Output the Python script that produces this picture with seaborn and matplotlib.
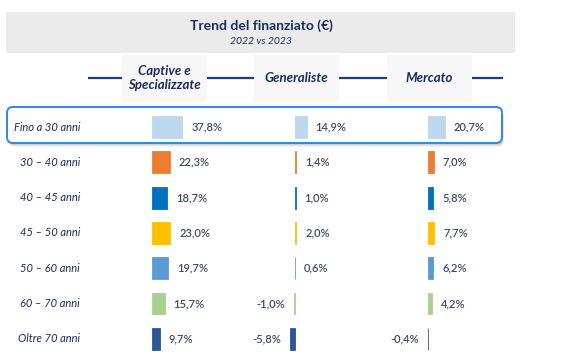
import pandas as pd
import seaborn as sns
import matplotlib.pyplot as plt
from matplotlib.patches import FancyBboxPatch, Rectangle
from matplotlib import transforms

age_groups = ["Fino a 30 anni", "30 – 40 anni", "40 – 45 anni", "45 – 50 anni",
              "50 – 60 anni", "60 – 70 anni", "Oltre 70 anni"]
captive = [37.8, 22.3, 18.7, 23.0, 19.7, 15.7, 9.7]
generaliste = [14.9, 1.4, 1.0, 2.0, 0.6, -1.0, -5.8]
mercato = [20.7, 7.0, 5.8, 7.7, 6.2, 4.2, -0.4]
column_names = ["Captive e\nSpecializzate", "Generaliste", "Mercato"]
bar_colors = ["#BDD7EE", "#ED7D31", "#0070C0", "#FFC000", "#5B9BD5", "#A9D18E", "#2F5597"]

navy = "#1B2B5E"
label_gray = "#3E4B63"

sns.set_theme(style="white")
plt.rcParams['font.family'] = ['Lato', 'DejaVu Sans']

W, H = 566, 360
fig = plt.figure(figsize=(W / 100, H / 100), dpi=100)

# background layer in pixel coords for the frame decorations
bg = fig.add_axes([0, 0, 1, 1])
bg.set_xlim(0, W)
bg.set_ylim(H, 0)
bg.axis("off")

bg.add_patch(Rectangle((6, 12), 509, 41, color="#EBEBEB", lw=0))
bg.text(261, 26, "Trend del finanziato (€)", ha="center", va="center",
        fontsize=10, fontweight="bold", color=navy)
bg.text(261, 42, "2022 vs 2023", ha="center", va="center",
        fontsize=7.5, style="italic", color=navy)

header_boxes = [(122, 207), (254, 339), (387, 472)]
for (x1, x2), name in zip(header_boxes, column_names):
    bg.add_patch(Rectangle((x1, 55), x2 - x1, 47, color="#F7F7F7", lw=0))
    bg.text((x1 + x2) / 2, 78, name, ha="center", va="center", fontsize=9.5,
            fontweight="bold", style="italic", color=navy, linespacing=1.25)
line_segs = [(88, 122), (207, 254), (339, 387), (472, 503)]
for x1, x2 in line_segs:
    bg.plot([x1, x2], [78, 78], color="#1F3F7A", lw=1.6, solid_capstyle="butt")

# highlight box with soft shadow
for k, a in enumerate([0.05, 0.06, 0.08]):
    off = 4 - k
    bg.add_patch(FancyBboxPatch((7 + off * 0.5, 107 + off), 495, 36,
                                boxstyle="round,pad=0,rounding_size=6",
                                fc="#000000", ec="none", alpha=a))
bg.add_patch(FancyBboxPatch((7, 107), 495, 36, boxstyle="round,pad=0,rounding_size=6",
                            fc="white", ec="#2F86EB", lw=1.4))

# bar panels: zero line position (px), 0.8 px per percent
zero_px = [152, 294.7, 428.3]
scale = 0.8
lo, hi = -20, 60
row_top, row_step = 109.4, 35.3

df = pd.DataFrame({"age": age_groups, "captive": captive,
                   "generaliste": generaliste, "mercato": mercato})

axes = []
for x0, col in zip(zero_px, ["captive", "generaliste", "mercato"]):
    left = (x0 + lo * scale) / W
    width = (hi - lo) * scale / W
    bottom = 1 - (row_top + row_step * len(age_groups)) / H
    height = row_step * len(age_groups) / H
    ax = fig.add_axes([left, bottom, width, height])
    ax.patch.set_alpha(0)
    sns.barplot(data=df, x=col, y="age", hue="age", palette=bar_colors,
                orient="h", width=0.62, legend=False, ax=ax, saturation=1)
    # thin outline in the bar's own colour so tiny values still show
    for p in ax.patches:
        p.set_edgecolor(p.get_facecolor())
        p.set_linewidth(0.6)
    ax.set_xlim(lo, hi)
    ax.set_ylim(len(age_groups) - 0.5, -0.5)
    ax.axis("off")
    for i, v in enumerate(df[col]):
        txt = f"{v:.1f}".replace(".", ",") + "%"
        if v >= 0:
            ax.annotate(txt, (v, i), xytext=(6.5, 0), textcoords="offset points",
                        ha="left", va="center", fontsize=8, color=label_gray,
                        fontweight="semibold")
        else:
            ax.annotate(txt, (v, i), xytext=(-6.5, 0), textcoords="offset points",
                        ha="right", va="center", fontsize=8, color=label_gray,
                        fontweight="semibold")
    axes.append(ax)

trans = transforms.blended_transform_factory(fig.transFigure, axes[0].transData)
for i, name in enumerate(age_groups):
    axes[0].text(80 / W, i, name, transform=trans, ha="right", va="center",
                 fontsize=8, style="italic", color=navy)

fig.savefig("out.png", dpi=100)
